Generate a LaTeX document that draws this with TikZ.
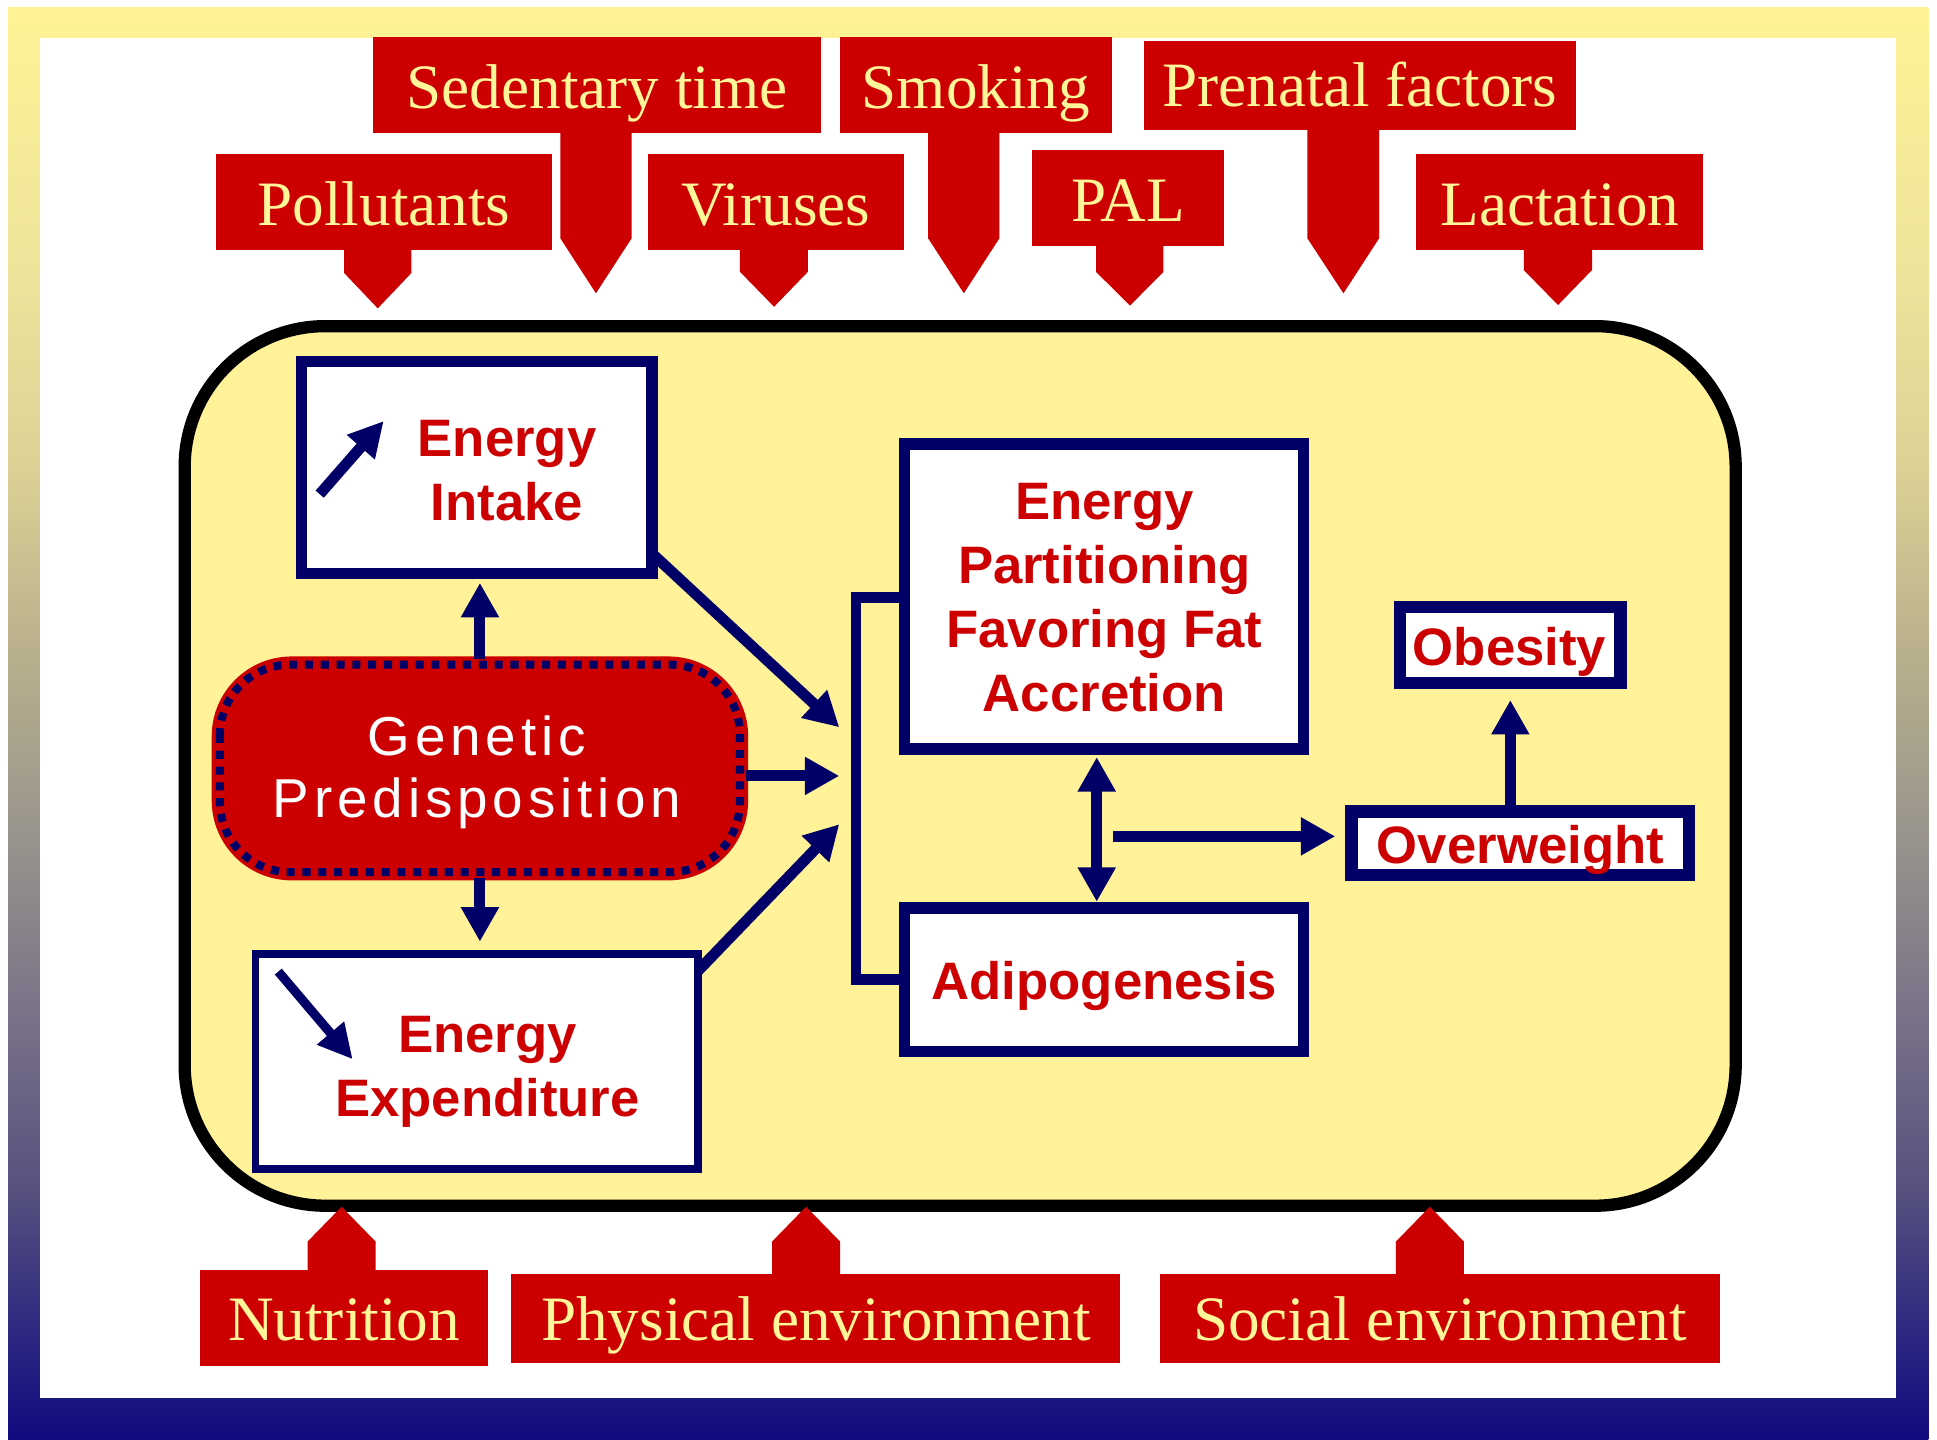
\documentclass[tikz,border=0pt]{standalone}
\usepackage{fontspec}
\setmainfont{Liberation Serif}
\newfontfamily\sansfont{Liberation Sans}
\newfontfamily\gpfont{Liberation Sans}[LetterSpace=9]
\usetikzlibrary{arrows.meta,fit}
\definecolor{cred}{RGB}{204,0,0}
\definecolor{cyel}{RGB}{255,245,153}
\definecolor{navy}{RGB}{0,0,102}
\definecolor{panel}{RGB}{255,242,153}
\definecolor{fa}{RGB}{255,242,150}
\definecolor{fb}{RGB}{237,227,154}
\definecolor{fc}{RGB}{220,210,150}
\definecolor{fd}{RGB}{185,176,140}
\definecolor{fe}{RGB}{155,150,141}
\definecolor{ff}{RGB}{123,115,136}
\definecolor{fg}{RGB}{85,80,127}
\definecolor{fh}{RGB}{30,26,128}
\definecolor{fi}{RGB}{16,12,128}
\pgfdeclareverticalshading{frameshade}{100bp}{color(0bp)=(fi); color(25bp)=(fi); color(27bp)=(fh); color(33.5bp)=(fg); color(40bp)=(ff); color(46.5bp)=(fe); color(52.5bp)=(fd); color(59bp)=(fc); color(65.5bp)=(fb); color(75bp)=(fa); color(100bp)=(fa)}
\begin{document}
\begin{tikzpicture}[x=0.012354cm, y=-0.012354cm,
  box/.style={draw=navy, fill=white, inner sep=0pt, outer sep=0pt},
  btext/.style={text=cred, font=\sansfont\bfseries\fontsize{15}{18.2}\selectfont, align=center, inner sep=0pt},
  callout/.style={fill=cred, inner sep=0pt, outer sep=0pt},
  ctext/.style={text=cyel, font=\fontsize{18}{21.6}\selectfont, inner sep=0pt, anchor=base},
  arr/.style={draw=navy, line width=3.1pt, -{Triangle[length=9.8pt,width=10.2pt]}},
  darr/.style={draw=navy, line width=3.1pt, {Triangle[length=9.8pt,width=10.2pt]}-{Triangle[length=9.8pt,width=10.2pt]}},
]
\useasboundingbox (0,0) rectangle (1568,1165);
% frame
\shade[shading=frameshade] (6.5,6) rectangle (1561,1165);
\fill[white] (32.4,31) rectangle (1535,1131.5);
% panel
\node[fit={(149.5,264)(1405,976)}, draw=black, fill=panel, line width=3.5pt, rounded corners=40pt, inner sep=0pt, outer sep=0pt] (panel) {};

% boxes
\node[box, line width=3.27pt, fit={(244,292.6)(527.8,464.4)}] (ei) {};
\node[btext] (eit) at (410.5,380.8) {Energy\\Intake};
\node[box, line width=2.2pt, fit={(206.9,772.2)(564.9,946.5)}] (ee) {};
\node[btext] (eet) at (394.5,867.5) {Energy\\Expenditure};
\node[box, line width=3.3pt, fit={(732.3,359.6)(1055.3,606.3)}] (ep) {};
\node[btext] (ept) at (894,483.5) {Energy\\Partitioning\\Favoring Fat\\Accretion};
\node[box, line width=3.3pt, fit={(732.3,734.8)(1055.3,851)}] (ad) {};
\node[btext, anchor=base] (adt) at (894,809) {Adipogenesis};
\node[box, line width=3.5pt, fit={(1133.5,491.4)(1311.7,553)}] (ob) {};
\node[btext, anchor=base] (obt) at (1222,538.8) {Obesity};
\node[box, line width=3.5pt, fit={(1094,657)(1367.5,708.3)}] (ow) {};
\node[btext, anchor=base] (owt) at (1230.8,698.9) {Overweight};

% genetic predisposition
\node[fit={(173.5,533.5)(603.5,710.5)}, fill=cred, draw=cred, line width=1.5pt, rounded corners=22pt, inner sep=0pt, outer sep=0pt] (gp) {};
\draw[navy, line width=2.3pt, dash pattern=on 2.3pt off 2.2pt, rounded corners=20pt] (178,538) rectangle (599,706);
\node[text=white, font=\gpfont\fontsize{15.6}{17.8}\selectfont, align=center, inner sep=0pt] (gpt) at (386,625) {Genetic\\Predisposition};

% small trend arrows
\coordinate (sa1) at (258.8,400);
\coordinate (sa2) at (310.6,340.8);
\draw[navy, line width=3.1pt, -{Triangle[length=9.9pt,width=9.9pt]}] (sa1) -- (sa2);
\coordinate (sb1) at (225.3,786.5);
\coordinate (sb2) at (285.5,857.5);
\draw[navy, line width=2.6pt, -{Triangle[length=9.8pt,width=9.5pt]}] (sb1) -- (sb2);

% bracket
\coordinate (b1) at (693,483.7);
\coordinate (b2) at (693,792.6);
\draw[navy, line width=3.05pt] (ep.west |- b1) -- (b1) -- (b2) -- (ad.west |- b2);

% arrows
\coordinate (in1) at (679.4,588.7);
\coordinate (in2) at (679.4,628.1);
\coordinate (in3) at (679.4,667.2);
\coordinate (s1) at (528.8,448);
\coordinate (s3) at (566,786);
\draw[arr] (ei.east |- s1) -- (in1);
\draw[arr] (gp.east |- in2) -- (in2);
\draw[arr] (ee.east |- s3) -- (in3);
\draw[arr, shorten >=2.6pt] (gp.north) -- (gp.north |- ei.south);
\draw[arr, shorten >=3.5pt] (gp.south) -- (gp.south |- ee.north);
\coordinate (d1) at (887.8,650);
\draw[darr, shorten <=2.3pt, shorten >=1.7pt] (ep.south -| d1) -- (ad.north -| d1);
\coordinate (h1) at (900.8,677);
\draw[arr, shorten >=4.6pt] (h1) -- (ow.west |- h1);
\draw[arr, shorten >=4.8pt] (ow.north -| ob.south) -- (ob.south);

% top callouts
\node[callout, fit={(175,124.7)(446.7,202)}] (pol) {};
\fill[cred] (278.6,200) -- (278.6,221) -- (305.8,249.6) -- (333,221) -- (333,200) -- cycle;
\node[ctext] (polt) at (310.8,182.7) {Pollutants};

\node[callout, fit={(302,30)(664.6,107.4)}] (sed) {};
\fill[cred] (453.6,105) -- (453.6,192.9) -- (482.4,237.4) -- (511.3,192.9) -- (511.3,105) -- cycle;
\node[ctext] (sedt) at (483.3,87.7) {Sedentary time};

\node[callout, fit={(524.7,124.7)(731.4,202)}] (vir) {};
\fill[cred] (599,200) -- (599,220) -- (626.6,248.3) -- (654,220) -- (654,200) -- cycle;
\node[ctext] (virt) at (628,182.7) {Viruses};

\node[callout, fit={(680,30)(900,107.4)}] (smo) {};
\fill[cred] (751.3,105) -- (751.3,192.9) -- (780.2,237.4) -- (809,192.9) -- (809,105) -- cycle;
\node[ctext] (smot) at (790,87.7) {Smoking};

\node[callout, fit={(835.5,121.4)(991,198.9)}] (pal) {};
\fill[cred] (887.2,196) -- (887.2,220) -- (914.7,247.4) -- (941.8,220) -- (941.8,196) -- cycle;
\node[ctext] (palt) at (913.3,179.5) {PAL};

\node[callout, fit={(926,33.2)(1275.6,105)}] (pre) {};
\fill[cred] (1058.3,103) -- (1058.3,192.9) -- (1087.5,237.4) -- (1116.4,192.9) -- (1116.4,103) -- cycle;
\node[ctext] (pret) at (1100.8,86.4) {Prenatal factors};

\node[callout, fit={(1146.4,124.7)(1378.9,202)}] (lac) {};
\fill[cred] (1233.5,200) -- (1233.5,218.6) -- (1261.2,246.9) -- (1288.7,218.6) -- (1288.7,200) -- cycle;
\node[ctext] (lact) at (1262.7,182.7) {Lactation};

% bottom callouts
\node[callout, fit={(162,1028)(395,1105.5)}] (nut) {};
\fill[cred] (249,1030) -- (249,1005) -- (276.5,976.8) -- (304,1005) -- (304,1030) -- cycle;
\node[ctext] (nutt) at (278.5,1085.5) {Nutrition};

\node[callout, fit={(414,1031)(907,1103)}] (phy) {};
\fill[cred] (625,1033) -- (625,1005) -- (652.5,976.8) -- (680,1005) -- (680,1033) -- cycle;
\node[ctext] (phyt) at (660.5,1084.7) {Physical environment};

\node[callout, fit={(939,1031)(1392,1103)}] (soc) {};
\fill[cred] (1130,1033) -- (1130,1005) -- (1157.5,976.8) -- (1185,1005) -- (1185,1033) -- cycle;
\node[ctext] (soct) at (1165.5,1084.7) {Social environment};
\end{tikzpicture}
\end{document}
